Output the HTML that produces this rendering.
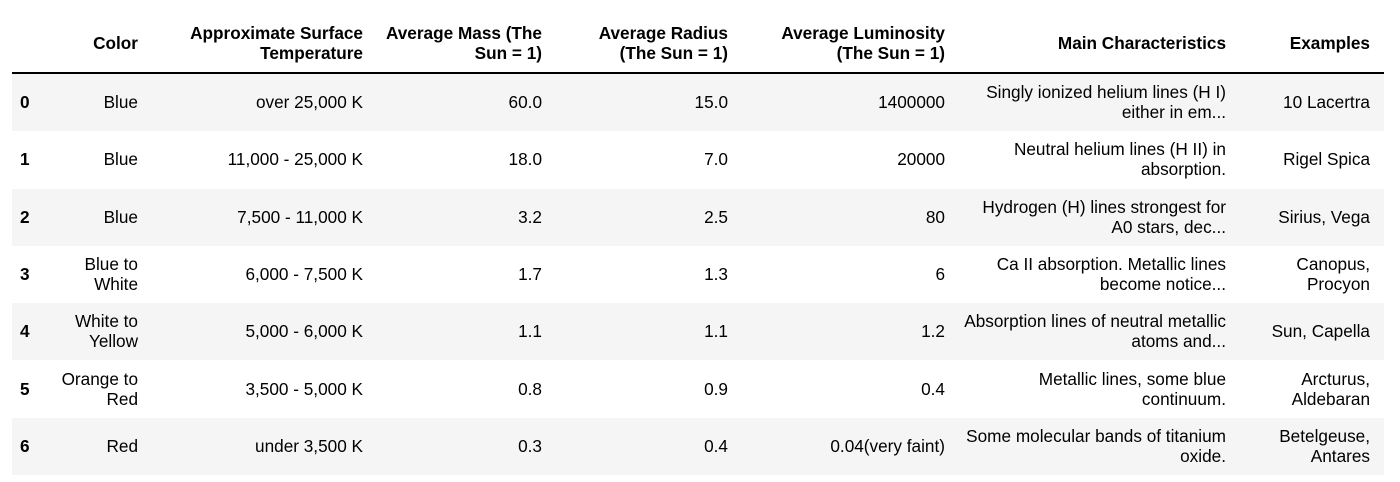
<!DOCTYPE html>
<html><head><meta charset="utf-8"><style>
body{margin:0;width:1400px;height:482px;background:#fff;font-family:"Liberation Sans",Arial,sans-serif;font-size:17.2px;color:#000;position:relative;overflow:hidden}
.r{position:absolute;left:12px;width:1372px;height:57px}
.s{background:#f5f5f5}
.c{position:absolute;text-align:right;line-height:20px;white-space:nowrap}
.h{font-weight:bold}
.line{position:absolute;left:12px;width:1372px;top:72px;height:2px;background:#000}
</style></head><body>
<div>
<div class="line"></div>
<div id="rows"></div>
</div>
<script>
var rights=[null,138,363,542,728,945,1226,1370];
var headers=["","Color","Approximate Surface<br>Temperature","Average Mass (The<br>Sun = 1)","Average Radius<br>(The Sun = 1)","Average Luminosity<br>(The Sun = 1)","Main Characteristics","Examples"];
var rows=[
["0","Blue","over 25,000 K","60.0","15.0","1400000","Singly ionized helium lines (H I)<br>either in em...","10 Lacertra"],
["1","Blue","11,000 - 25,000 K","18.0","7.0","20000","Neutral helium lines (H II) in<br>absorption.","Rigel Spica"],
["2","Blue","7,500 - 11,000 K","3.2","2.5","80","Hydrogen (H) lines strongest for<br>A0 stars, dec...","Sirius, Vega"],
["3","Blue to<br>White","6,000 - 7,500 K","1.7","1.3","6","Ca II absorption. Metallic lines<br>become notice...","Canopus,<br>Procyon"],
["4","White to<br>Yellow","5,000 - 6,000 K","1.1","1.1","1.2","Absorption lines of neutral metallic<br>atoms and...","Sun, Capella"],
["5","Orange to<br>Red","3,500 - 5,000 K","0.8","0.9","0.4","Metallic lines, some blue<br>continuum.","Arcturus,<br>Aldebaran"],
["6","Red","under 3,500 K","0.3","0.4","0.04(very faint)","Some molecular bands of titanium<br>oxide.","Betelgeuse,<br>Antares"]];
var body=document.body;
function cell(txt,i,cy,bold,name){
  var d=document.createElement('div');
  d.className='c'+(bold?' h':'');
  
  
  d.innerHTML=txt;
  var lines=txt.split('<br>').length;
  d.style.top=(cy-lines*10)+'px';
  if(i===0){d.style.left='20px';d.style.textAlign='left';}
  else{d.style.right=(1400-rights[i])+'px';}
  body.appendChild(d);
}
headers.forEach(function(t,i){if(t)cell(t,i,43,true,'column-header');});
rows.forEach(function(r,k){
  var top=74+k*57.3;
  var bg=document.createElement('div');
  bg.className='r'+(k%2===0?' s':'');
  bg.style.top=top+'px';
  
  
  body.appendChild(bg);
  r.forEach(function(t,i){cell(t,i,top+28,i===0,i===0?'row-index':'table-cell');});
});
</script>
</body></html>
